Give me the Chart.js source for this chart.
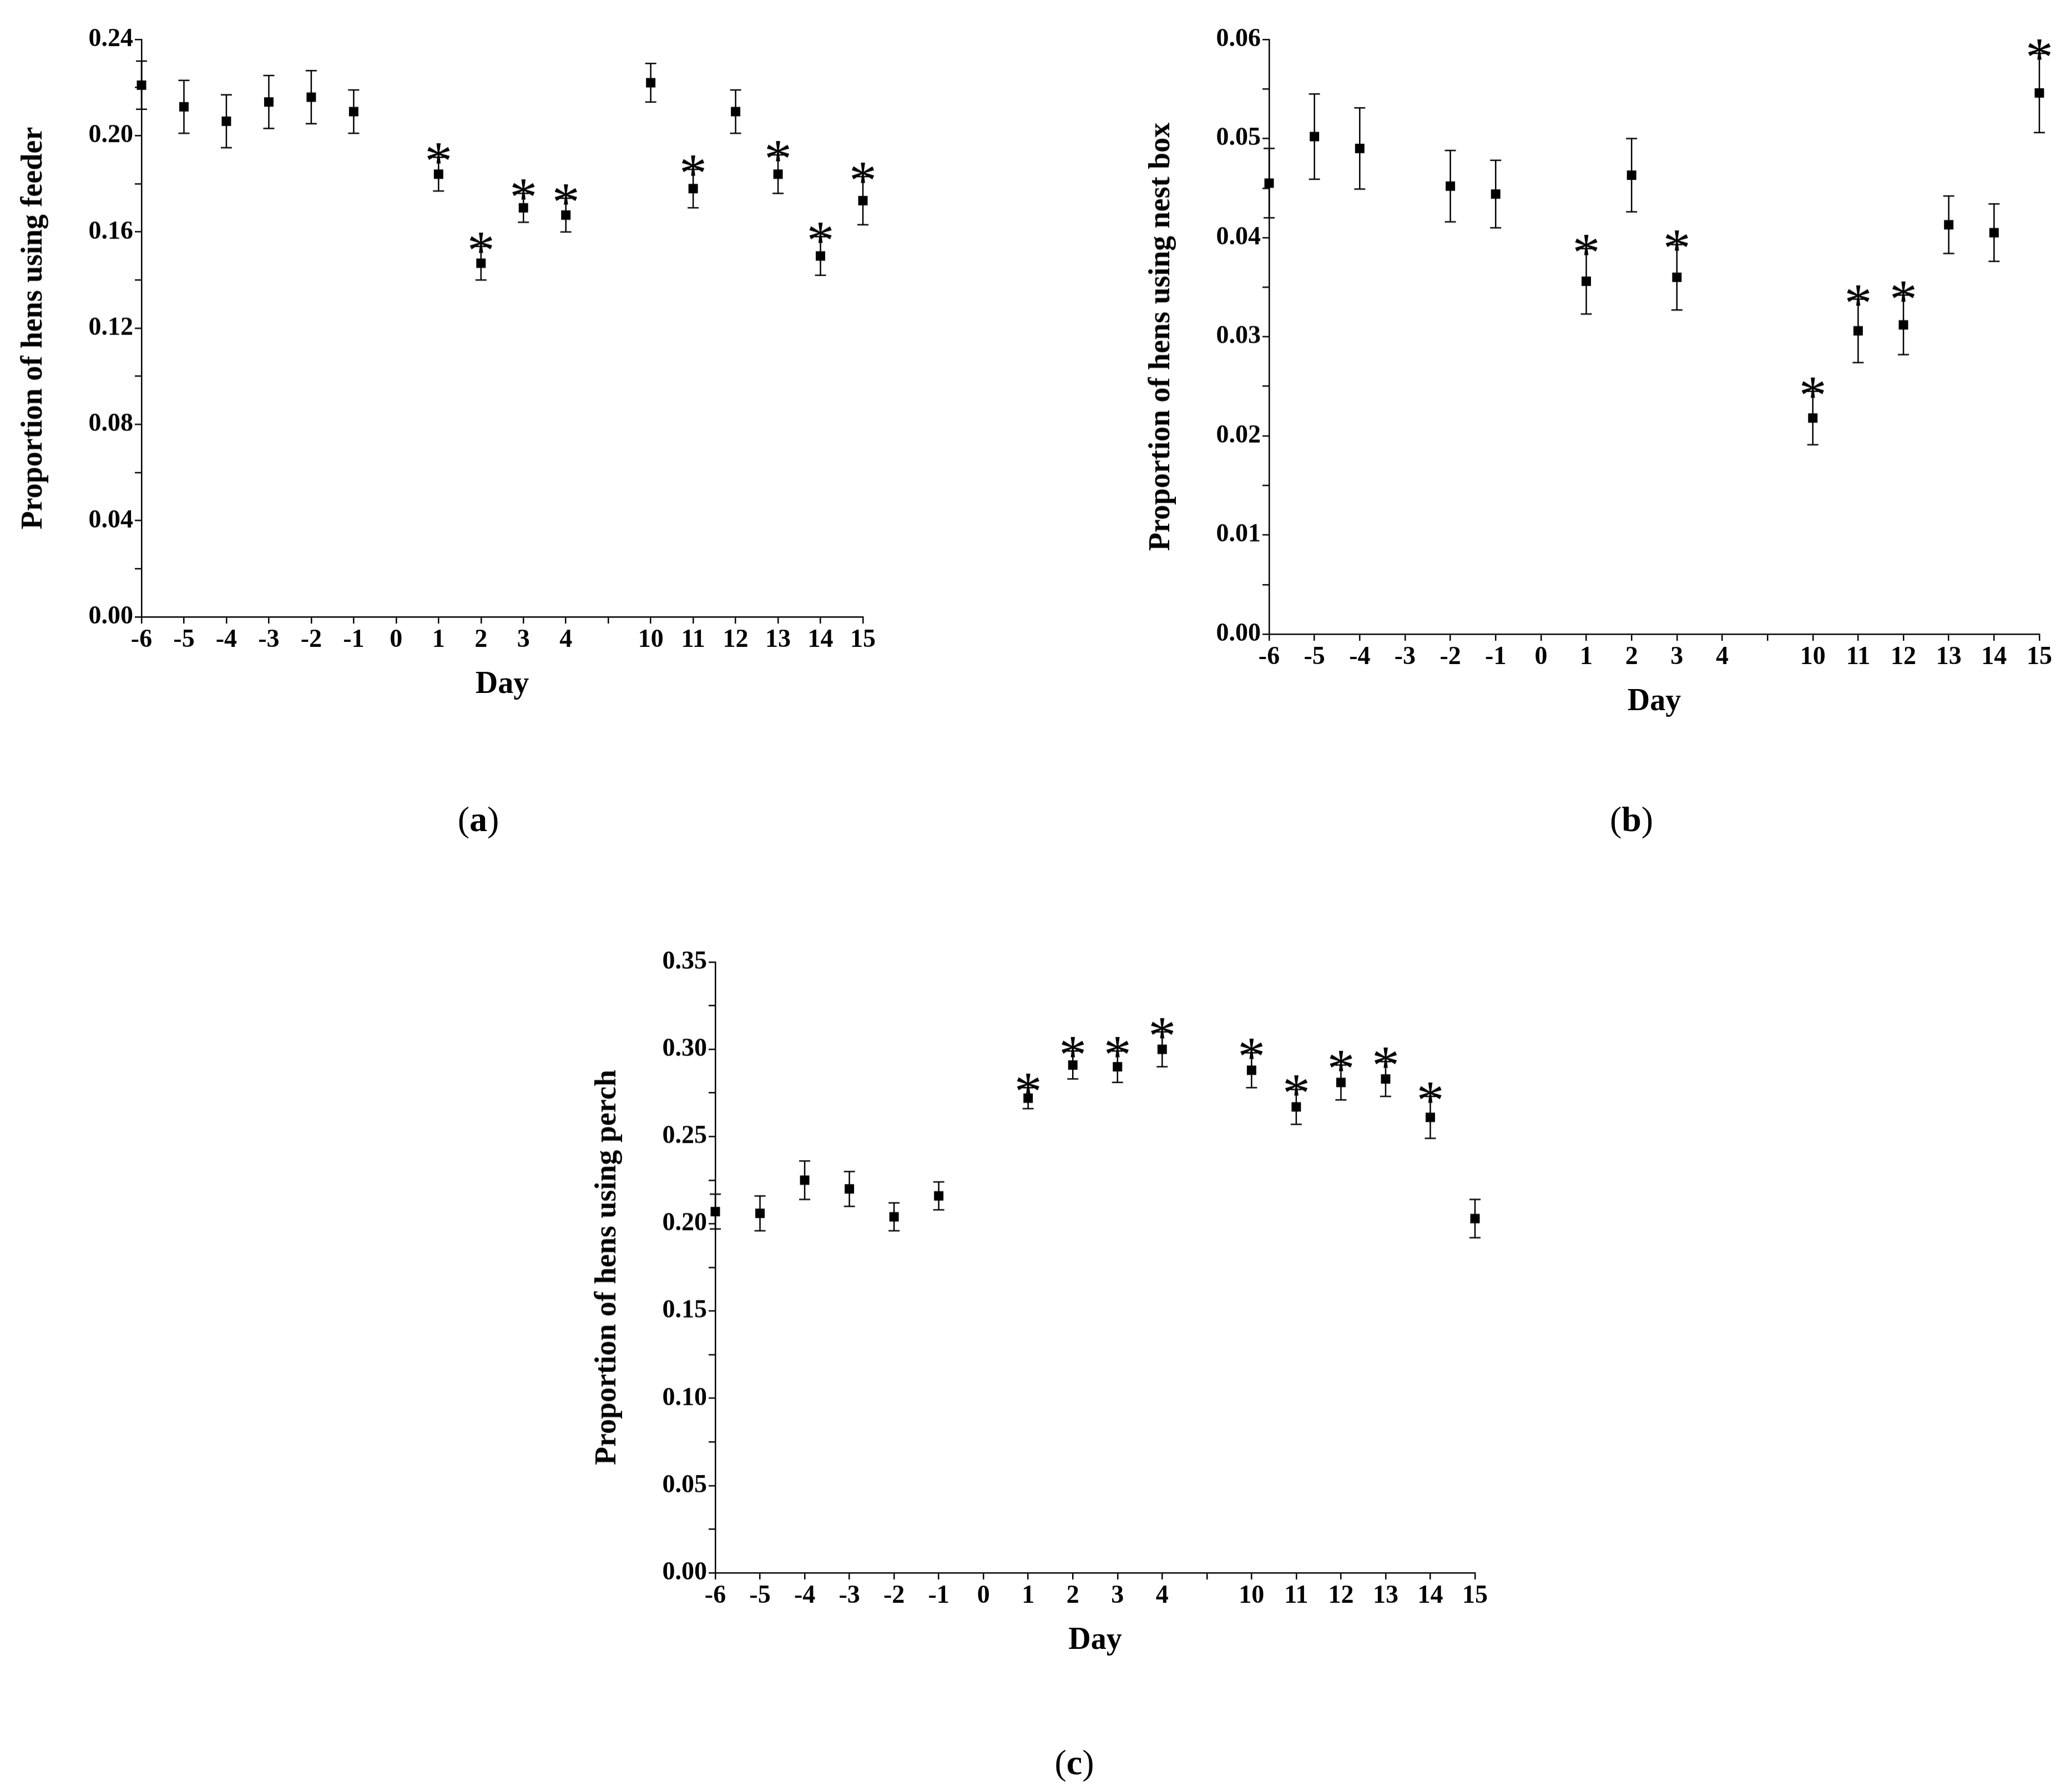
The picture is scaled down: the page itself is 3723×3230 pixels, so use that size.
<!DOCTYPE html>
<html><head><meta charset="utf-8">
<script src="https://cdn.jsdelivr.net/npm/chart.js@4/dist/chart.umd.min.js"></script>
<style>
html,body{margin:0;padding:0;background:#fff;width:3723px;height:3230px;overflow:hidden;position:relative;font-family:"Liberation Serif",serif}
canvas{position:absolute}
.lab{position:absolute;font-family:"Liberation Serif",serif;font-size:64px;color:#000;transform:translateX(-50%)}
</style></head><body>
<canvas id="ca"></canvas><canvas id="cb"></canvas><canvas id="cc"></canvas>
<div class="lab" style="left:862px;top:1440px">(<b>a</b>)</div>
<div class="lab" style="left:2940px;top:1440px">(<b>b</b>)</div>
<div class="lab" style="left:1936px;top:3140px">(<b>c</b>)</div>
<script>
const days = [-6,-5,-4,-3,-2,-1,0,1,2,3,4,null,10,11,12,13,14,15];
const dayLabels = ['-6','-5','-4','-3','-2','-1','0','1','2','3','4','','10','11','12','13','14','15'];
// values per day (null = no data); order: -6..4, gap, 10..15
const feederMean = [0.221,0.212,0.206,0.214,0.216,0.210,null,0.184,0.147,0.170,0.167,null,0.222,0.178,0.210,0.184,0.150,0.173];
const feederErr  = [0.010,0.011,0.011,0.011,0.011,0.009,null,0.007,0.007,0.006,0.007,null,0.008,0.008,0.009,0.008,0.008,0.010];
const feederSig  = [0,0,0,0,0,0,0,1,1,1,1,0,0,1,0,1,1,1];
const nestMean = [0.0455,0.0502,0.0490,null,0.0452,0.0444,null,0.0356,0.0463,0.0360,null,null,0.0218,0.0306,0.0312,0.0413,0.0405,0.0546];
const nestErr  = [0.0035,0.0043,0.0041,null,0.0036,0.0034,null,0.0033,0.0037,0.0033,null,null,0.0027,0.0032,0.0030,0.0029,0.0029,0.0040];
const nestSig  = [0,0,0,0,0,0,0,1,0,1,0,0,1,1,1,0,0,1];
const perchMean = [0.207,0.206,0.225,0.220,0.204,0.216,null,0.272,0.291,0.290,0.300,null,0.288,0.267,0.281,0.283,0.261,0.203];
const perchErr  = [0.010,0.010,0.011,0.010,0.008,0.008,null,0.006,0.008,0.009,0.010,null,0.010,0.010,0.010,0.010,0.012,0.011];
const perchSig  = [0,0,0,0,0,0,0,1,1,1,1,0,1,1,1,1,1,0];

const s = 2.382;
const font = "Liberation Serif";
const errPlugin = {
  id:'err',
  afterDatasetsDraw(chart){
    const o = chart.options.plugins.err; const ctx = chart.ctx;
    const xs = chart.scales.x, ys = chart.scales.y;
    ctx.save(); ctx.strokeStyle='#000'; ctx.lineWidth=2.5; ctx.fillStyle='#000';
    o.mean.forEach((m,i)=>{
      if(m==null) return;
      const x = xs.getPixelForValue(i), yt = ys.getPixelForValue(m+o.err[i]), yb = ys.getPixelForValue(m-o.err[i]);
      ctx.beginPath(); ctx.moveTo(x,yt); ctx.lineTo(x,yb);
      ctx.moveTo(x-10,yt); ctx.lineTo(x+10,yt); ctx.moveTo(x-10,yb); ctx.lineTo(x+10,yb); ctx.stroke();
      if(o.sig[i]){
        ctx.font = "100px '"+font+"'"; ctx.textAlign='center'; ctx.textBaseline='alphabetic';
        ctx.fillText('*', x, yt+40);
      }
    });
    ctx.restore();
  }
};
function make(id, L,T,R,B, mean, err, sig, ymax, step, title){
  const yW=230, xH=160, pT=90, pR=50;
  const c = document.getElementById(id);
  const W = (R-L)*s + yW + pR, H = (B-T)*s + pT + xH;
  c.style.left = (L*s - yW)+'px'; c.style.top = (T*s - pT)+'px';
  c.style.width = W+'px'; c.style.height = H+'px'; c.width=W; c.height=H;
  new Chart(c, {
    type:'scatter',
    data:{datasets:[{data: mean.map((v,i)=> v==null?null:{x:i,y:v}).filter(p=>p),
      pointStyle:'rect', radius:12, backgroundColor:'#000', borderColor:'#000', borderWidth:0, clip:false}]},
    plugins:[errPlugin],
    options:{
      responsive:false, animation:false, devicePixelRatio:1,
      layout:{padding:{top:pT,right:pR,left:0,bottom:0}},
      plugins:{legend:{display:false}, tooltip:{enabled:false}, err:{mean,err,sig}},
      scales:{
        x:{type:'linear', min:0, max:17, afterFit(a){a.height=xH;},
          border:{color:'#000',width:2.5}, grid:{display:true,drawOnChartArea:false,color:'#000',tickLength:12,lineWidth:2.5},
          ticks:{stepSize:1, autoSkip:false, maxRotation:0, color:'#000', font:{family:font,weight:'bold',size:46}, callback:(v)=>dayLabels[v]},
          title:{display:true,text:'Day',color:'#000',font:{family:font,weight:'bold',size:56},padding:{top:0}}},
        y:{min:0, max:ymax, afterFit(a){a.width=yW;},
          border:{color:'#000',width:2.5}, grid:{display:true,drawOnChartArea:false,color:'#000',tickLength:12,lineWidth:2.5},
          ticks:{stepSize:step/2, color:'#000', font:{family:font,weight:'bold',size:46},
            callback:(v)=>{const k=Math.round(v/(step/2)); return k%2? '' : v.toFixed(2);}},
          title:{display:true,text:title,color:'#000',font:{family:font,weight:'bold',size:54},padding:{bottom:8}}}
      }
    }
  });
}
make('ca',107,30,653,467,feederMean,feederErr,feederSig,0.24,0.04,'Proportion of hens using feeder');
make('cb',960,30,1543,480,nestMean,nestErr,nestSig,0.06,0.01,'Proportion of hens using nest box');
make('cc',541,728,1116,1190,perchMean,perchErr,perchSig,0.35,0.05,'Proportion of hens using perch');
</script></body></html>
